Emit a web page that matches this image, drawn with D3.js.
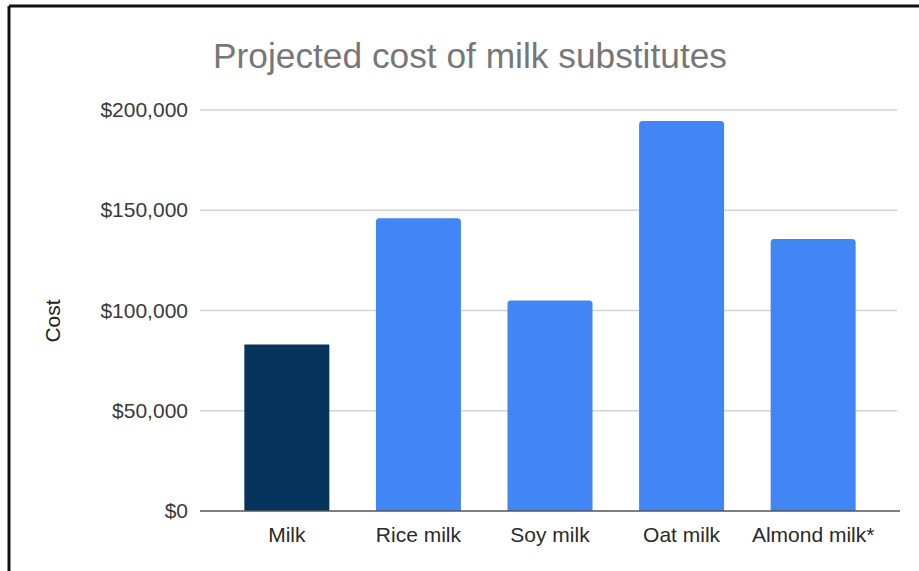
<!DOCTYPE html>
<html>
<head>
<meta charset="utf-8">
<script src="https://cdn.jsdelivr.net/npm/d3@7"></script>
<style>
  html, body { margin: 0; padding: 0; background: #fff; }
  svg { display: block; }
</style>
</head>
<body>
<svg id="chart" width="919" height="571"></svg>
<script>
// Projected cost per product
const categories = ["Milk", "Rice milk", "Soy milk", "Oat milk", "Almond milk*"];
const costs = [83000, 146000, 105000, 194500, 135700];
const yTicks = [0, 50000, 100000, 150000, 200000];
const title = "Projected cost of milk substitutes";
const yLabel = "Cost";

const W = 919, H = 571;
const margin = { left: 200, right: 19, top: 110, bottom: 60 };
const svg = d3.select("#chart");

// frame lines along the top and left
svg.append("line").attr("x1", 9).attr("x2", W).attr("y1", 6).attr("y2", 6)
  .attr("stroke", "#111").attr("stroke-width", 3);
svg.append("line").attr("x1", 9).attr("x2", 9).attr("y1", 6).attr("y2", H)
  .attr("stroke", "#111").attr("stroke-width", 3);

const x = d3.scaleBand()
  .domain(categories)
  .range([margin.left, 900])
  .paddingInner(0.354)
  .paddingOuter(0.337);

const y = d3.scaleLinear()
  .domain([0, 200000])
  .range([511, 110]);

// gridlines
svg.append("g")
  .selectAll("line")
  .data(yTicks.filter(d => d !== 0))
  .join("line")
  .attr("x1", margin.left).attr("x2", 897)
  .attr("y1", d => y(d)).attr("y2", d => y(d))
  .attr("stroke", "#d4d4d4").attr("stroke-width", 1.5);

// y axis labels
const yAxis = d3.axisLeft(y)
  .tickValues(yTicks)
  .tickSize(0)
  .tickPadding(12)
  .tickFormat(d => "$" + d3.format(",")(d));
svg.append("g")
  .attr("transform", `translate(${margin.left},0)`)
  .call(yAxis)
  .call(g => g.select(".domain").remove())
  .call(g => g.selectAll("text")
    .attr("font-family", "Liberation Sans, Arial, sans-serif")
    .attr("font-size", 21)
    .attr("fill", "#3a3a3a"));

// bars with slightly rounded top corners
function barPath(x0, w, yTop, yBase, r) {
  r = Math.min(r, w / 2, yBase - yTop);
  return `M${x0},${yBase}V${yTop + r}Q${x0},${yTop} ${x0 + r},${yTop}` +
         `H${x0 + w - r}Q${x0 + w},${yTop} ${x0 + w},${yTop + r}V${yBase}Z`;
}
svg.append("g")
  .selectAll("path")
  .data(categories.map((c, i) => ({ c, v: costs[i], i })))
  .join("path")
  .attr("d", d => barPath(x(d.c), x.bandwidth(), y(d.v), y(0), d.i === 0 ? 0.5 : 3.5))
  .attr("fill", d => d.i === 0 ? "#07345c" : "#4285f4");

// baseline
svg.append("line")
  .attr("x1", margin.left).attr("x2", 900)
  .attr("y1", y(0)).attr("y2", y(0))
  .attr("stroke", "#555").attr("stroke-width", 1.5);

// x axis labels
const xAxis = d3.axisBottom(x).tickSize(0).tickPadding(16);
svg.append("g")
  .attr("transform", `translate(0,${y(0)})`)
  .call(xAxis)
  .call(g => g.select(".domain").remove())
  .call(g => g.selectAll("text")
    .attr("font-family", "Liberation Sans, Arial, sans-serif")
    .attr("font-size", 21)
    .attr("fill", "#2a2a2a"));

// title
svg.append("text")
  .attr("x", 213).attr("y", 68)
  .attr("font-family", "Liberation Sans, Arial, sans-serif")
  .attr("font-size", 35.3)
  .attr("fill", "#777")
  .text(title);

// y axis title
svg.append("text")
  .attr("transform", "translate(60,321) rotate(-90)")
  .attr("text-anchor", "middle")
  .attr("font-family", "Liberation Sans, Arial, sans-serif")
  .attr("font-size", 21)
  .attr("fill", "#222")
  .text(yLabel);
</script>
</body>
</html>
